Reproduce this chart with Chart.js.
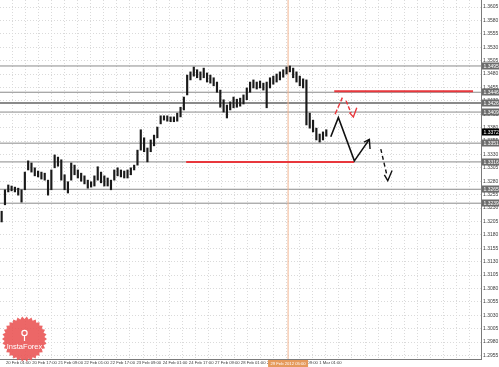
<!DOCTYPE html>
<html>
<head>
<meta charset="utf-8">
<script src="https://cdn.jsdelivr.net/npm/chart.js@4.4.1/dist/chart.umd.min.js"></script>
<style>
  html, body { margin: 0; padding: 0; background: #fff; overflow: hidden; }
  canvas { display: block; }
</style>
</head>
<body>
<canvas id="chart" width="499" height="367"></canvas>
<script>
// ── Price bars (2-hour slots) ───────────────────────────────────────────────
const barLow = [
  1.3204, 1.3236, 1.3260, 1.3262, 1.3260, 1.3254, 1.3241, 1.3264, 1.3301, 1.3297,
  1.3290, 1.3288, 1.3284, 1.3282, 1.3254, 1.3264, 1.3305, 1.3308, 1.3282, 1.3264,
  1.3258, 1.3282, 1.3292, 1.3286, 1.3280, 1.3275, 1.3267, 1.3269, 1.3271, 1.3282,
  1.3277, 1.3271, 1.3271, 1.3264, 1.3282, 1.3290, 1.3288, 1.3286, 1.3286, 1.3292,
  1.3301, 1.3310, 1.3338, 1.3335, 1.3316, 1.3335, 1.3346, 1.3361, 1.3387, 1.3394,
  1.3392, 1.3391, 1.3391, 1.3392, 1.3400, 1.3413, 1.3441, 1.3469, 1.3476, 1.3473,
  1.3469, 1.3473, 1.3465, 1.3463, 1.3458, 1.3446, 1.3418, 1.3409, 1.3398, 1.3413,
  1.3417, 1.3418, 1.3420, 1.3424, 1.3432, 1.3446, 1.3454, 1.3452, 1.3454, 1.3450,
  1.3417, 1.3454, 1.3461, 1.3465, 1.3469, 1.3474, 1.3480, 1.3484, 1.3473, 1.3465,
  1.3458, 1.3454, 1.3385, 1.3379, 1.3372, 1.3357, 1.3353, 1.3357, 1.3364
];
const barHigh = [
  1.3224, 1.3264, 1.3273, 1.3271, 1.3269, 1.3267, 1.3264, 1.3297, 1.3318, 1.3314,
  1.3305, 1.3299, 1.3297, 1.3295, 1.3282, 1.3301, 1.3329, 1.3325, 1.3320, 1.3292,
  1.3279, 1.3314, 1.3310, 1.3301, 1.3295, 1.3290, 1.3282, 1.3279, 1.3290, 1.3307,
  1.3297, 1.3290, 1.3286, 1.3282, 1.3301, 1.3305, 1.3301, 1.3299, 1.3301, 1.3305,
  1.3310, 1.3338, 1.3376, 1.3361, 1.3342, 1.3357, 1.3366, 1.3381, 1.3402, 1.3402,
  1.3402, 1.3400, 1.3400, 1.3407, 1.3418, 1.3437, 1.3478, 1.3484, 1.3493, 1.3488,
  1.3484, 1.3491, 1.3482, 1.3478, 1.3473, 1.3465, 1.3450, 1.3432, 1.3422, 1.3428,
  1.3437, 1.3433, 1.3435, 1.3441, 1.3454, 1.3465, 1.3469, 1.3465, 1.3467, 1.3463,
  1.3465, 1.3473, 1.3476, 1.3480, 1.3484, 1.3488, 1.3493, 1.3495, 1.3491, 1.3484,
  1.3476, 1.3471, 1.3469, 1.3407, 1.3394, 1.3379, 1.3368, 1.3372, 1.3376
];
const bidPrice = 1.3372;

// ── Support / resistance levels ─────────────────────────────────────────────
const levelPrices = [1.3495, 1.3446, 1.3426, 1.3409, 1.3351, 1.3316, 1.3265, 1.3239];
const redUpperLevel = { price: 1.3448, from: 100.9, to: 142.8 };
const redLowerLevel = { price: 1.3316, from: 56.2, to: 106.9 };

// ── Hand-drawn forecast arrows (slot, price) ────────────────────────────────
const blackPathX  = [99.85, 102.14, 106.97, 111.50];
const blackPathY  = [1.3363, 1.3399, 1.3318, 1.3358];
const blackHeadX  = [109.90, 111.50, 111.71];
const blackHeadY  = [1.3353, 1.3358, 1.3340];
const blackDashX  = [114.95, 116.76];
const blackDashY  = [1.3340, 1.3292];
const blackDashHX = [116.03, 117.06, 118.36];
const blackDashHY = [1.3292, 1.3281, 1.3300];
const redUpX      = [101.15, 103.35];
const redUpY      = [1.3405, 1.3436];
const redDownX    = [104.47, 105.98];
const redDownY    = [1.3430, 1.3407];
const redHeadX    = [105.47, 106.67, 107.70];
const redHeadY    = [1.3408, 1.3400, 1.3417];

// ── Axes ────────────────────────────────────────────────────────────────────
const xTickLabels = ['20 Feb 01:00', '20 Feb 17:00', '21 Feb 09:00', '22 Feb 01:00', '22 Feb 17:00',
  '23 Feb 09:00', '24 Feb 01:00', '24 Feb 17:00', '27 Feb 09:00', '28 Feb 01:00', '28 Feb 17:00',
  '29 Feb 09:00', '1 Mar 01:00'];
const xTickSlots = [1.8, 9.7, 17.6, 25.4, 33.3, 41.2, 49.1, 57.0, 64.9, 72.7, 80.6, 88.5, 96.4];
const yTickLabels = ['1.3605', '1.3580', '1.3555', '1.3530', '1.3505', '1.3480', '1.3455', '1.3430',
  '1.3405', '1.3380', '1.3355', '1.3330', '1.3305', '1.3280', '1.3255', '1.3230', '1.3205', '1.3180',
  '1.3155', '1.3130', '1.3105', '1.3080', '1.3055', '1.3030', '1.3005', '1.2980', '1.2955'];
const markerSlot  = 86.96;
const markerLabel = '29 Feb 2012 05:00';

const X_MAX = 145.2;
const Y_MIN = 1.29483, Y_MAX = 1.36181;
const FONT  = 'Liberation Sans';
const GRID_STEP = 3.94;

// grid: every label slot plus the half-way line, carried on past the last label
const gridSlots = [];
xTickSlots.forEach(s => gridSlots.push(s, s + GRID_STEP));
for (let v = xTickSlots[xTickSlots.length - 1] + 2 * GRID_STEP; v < X_MAX; v += GRID_STEP) gridSlots.push(v);

const labelAt = v => {
  const i = xTickSlots.findIndex(s => Math.abs(s - v) < 0.01);
  return i >= 0 ? xTickLabels[i] : '';
};

const pts = (xs, ys) => xs.map((x, i) => ({ x, y: ys[i] }));
const seg = (data, color, width, dash, order) => ({
  type: 'line', data, borderColor: color, borderWidth: width, borderDash: dash || [],
  pointRadius: 0, fill: false, tension: 0, order,
});

const datasets = [
  {
    type: 'bar',
    data: barLow.map((lo, i) => ({ x: i + 0.5, y: [lo, barHigh[i]] })),
    backgroundColor: '#1a1a1a',
    barThickness: 1.5,
    borderWidth: 0,
    order: 3,
  },
  ...levelPrices.map((p, i) =>
    seg([{ x: 0, y: p }, { x: X_MAX, y: p }], '#8a8a8a', i === 2 ? 2 : 1, null, 6)),
  seg([{ x: markerSlot, y: Y_MIN }, { x: markerSlot, y: Y_MAX }], '#f2b48e', 1, null, 5),
  seg([{ x: redUpperLevel.from, y: redUpperLevel.price }, { x: redUpperLevel.to, y: redUpperLevel.price }], '#e8373c', 2, null, 2),
  seg([{ x: redLowerLevel.from, y: redLowerLevel.price }, { x: redLowerLevel.to, y: redLowerLevel.price }], '#e8373c', 2, null, 2),
  seg(pts(blackPathX, blackPathY), '#111', 1.6, null, 0),
  seg(pts(blackHeadX, blackHeadY), '#111', 1.4, null, 0),
  seg(pts(blackDashX, blackDashY), '#111', 1.4, [4, 3], 0),
  seg(pts(blackDashHX, blackDashHY), '#111', 1.4, null, 0),
  seg(pts(redUpX, redUpY), '#e8373c', 1.4, [5, 2], 0),
  seg(pts(redDownX, redDownY), '#e8373c', 1.4, [4, 2], 0),
  seg(pts(redHeadX, redHeadY), '#e8373c', 1.4, null, 0),
];

// ── Extra drawing: price tags, time tag, watermark ──────────────────────────
const overlay = {
  id: 'overlay',
  beforeDraw(chart) {
    const ctx = chart.ctx;
    ctx.save();
    ctx.fillStyle = '#fff';
    ctx.fillRect(0, 0, chart.width, chart.height);
    ctx.restore();
  },
  beforeDatasetsDraw(chart) {
    // InstaForex badge
    const ctx = chart.ctx;
    const cx = 24.5, cy = 339, ro = 22.5, ri = 20, n = 30;
    ctx.save();
    ctx.beginPath();
    for (let k = 0; k < n * 2; k++) {
      const r = k % 2 ? ri : ro;
      const t = Math.PI * k / n;
      ctx.lineTo(cx + r * Math.cos(t), cy + r * Math.sin(t));
    }
    ctx.closePath();
    ctx.fillStyle = 'rgba(233,82,82,0.88)';
    ctx.fill();
    ctx.strokeStyle = '#fff';
    ctx.lineWidth = 1.2;
    ctx.beginPath();
    ctx.arc(cx, cy - 6, 2.6, 0, Math.PI * 2);
    ctx.moveTo(cx, cy - 3.4);
    ctx.lineTo(cx, cy + 2);
    ctx.stroke();
    ctx.fillStyle = '#fff';
    ctx.font = `7.5px "${FONT}"`;
    ctx.textAlign = 'center';
    ctx.textBaseline = 'middle';
    ctx.fillText('InstaForex', cx, cy + 8);
    ctx.restore();
  },
  afterDraw(chart) {
    const { ctx, chartArea: a, scales: { x, y } } = chart;
    ctx.save();
    ctx.font = `5px "${FONT}"`;
    ctx.textBaseline = 'middle';
    const tag = (price, bg) => {
      const py = Math.round(y.getPixelForValue(price));
      ctx.fillStyle = bg;
      ctx.fillRect(a.right + 1, py - 3.5, 18, 7);
      ctx.fillStyle = '#fff';
      ctx.textAlign = 'left';
      ctx.fillText(price.toFixed(4), a.right + 2.5, py + 0.5);
    };
    levelPrices.forEach(p => tag(p, '#6c6c6c'));
    tag(bidPrice, '#000');

    const vx = x.getPixelForValue(markerSlot);
    ctx.fillStyle = '#e59a5c';
    ctx.fillRect(vx - 20, a.bottom + 1, 40, 7);
    ctx.fillStyle = '#fff';
    ctx.textAlign = 'center';
    ctx.font = `4.2px "${FONT}"`;
    ctx.fillText(markerLabel, vx, a.bottom + 4.5);
    ctx.restore();
  },
};

new Chart(document.getElementById('chart'), {
  type: 'bar',
  data: { datasets },
  options: {
    responsive: false,
    animation: false,
    devicePixelRatio: 1,
    layout: { padding: 0 },
    plugins: { legend: { display: false }, tooltip: { enabled: false } },
    scales: {
      x: {
        type: 'linear',
        min: 0,
        max: X_MAX,
        offset: false,
        grid: { color: '#dadada', drawTicks: false },
        border: { color: '#7a7a7a', dash: [1, 2] },
        ticks: {
          autoSkip: false,
          maxRotation: 0,
          align: 'start',
          padding: 1.5,
          color: '#3a3a3a',
          font: { size: 4.2, family: FONT },
          callback: v => labelAt(v),
        },
        afterBuildTicks: s => { s.ticks = gridSlots.map(v => ({ value: v })); },
        afterFit: s => { s.height = 8; s.paddingLeft = 0; s.paddingRight = 0; },
      },
      y: {
        position: 'right',
        min: Y_MIN,
        max: Y_MAX,
        grid: { color: '#dadada', drawTicks: false },
        border: { color: '#7a7a7a', dash: [1, 2] },
        ticks: {
          padding: 2,
          color: '#3a3a3a',
          font: { size: 5, family: FONT },
          callback: v => v.toFixed(4),
        },
        afterBuildTicks: s => { s.ticks = yTickLabels.map(t => ({ value: Number(t) })); },
        afterFit: s => { s.width = 18; s.paddingTop = 0; s.paddingBottom = 0; },
      },
    },
  },
  plugins: [overlay],
});
</script>
</body>
</html>
